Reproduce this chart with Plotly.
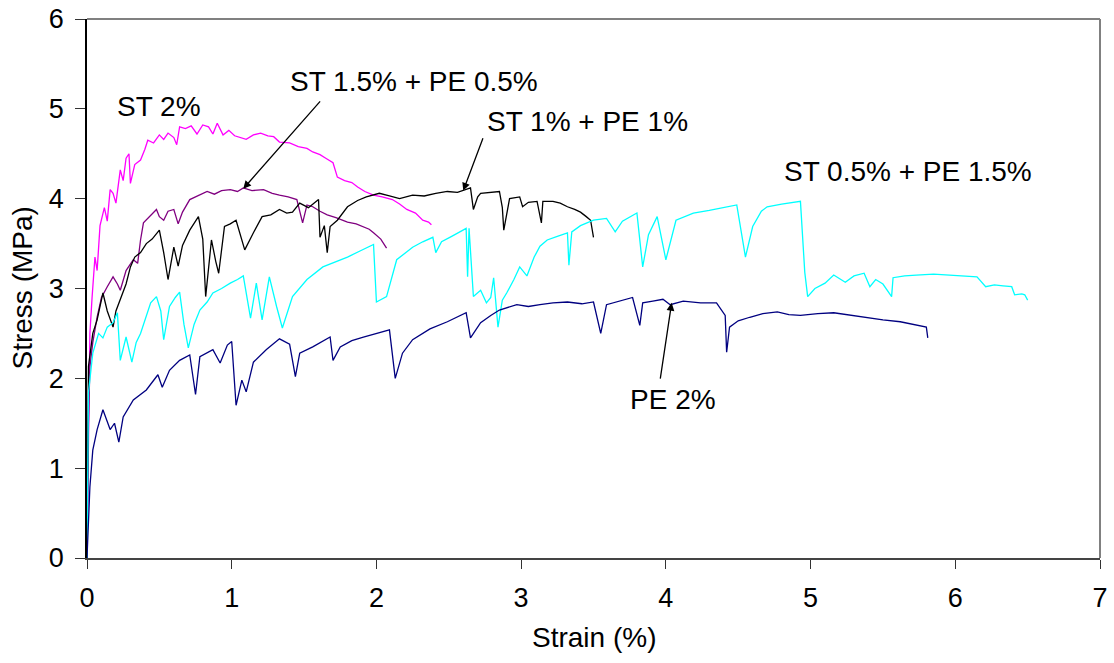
import plotly.graph_objects as go

# ---------------- data (strain %, stress MPa) ----------------
st2_x = [0.0, 0.01, 0.02, 0.035, 0.055, 0.07, 0.09, 0.12, 0.14, 0.16, 0.18, 0.2, 0.23, 0.25, 0.27, 0.29, 0.3, 0.33,
         0.37, 0.4, 0.42, 0.46, 0.5, 0.53, 0.56, 0.6, 0.62, 0.64, 0.68, 0.72, 0.76, 0.8, 0.84, 0.87, 0.9, 0.94,
         0.98, 1.02, 1.06, 1.1, 1.15, 1.2, 1.25, 1.29, 1.33, 1.4, 1.46, 1.52, 1.56, 1.61, 1.65, 1.7, 1.73, 1.78,
         1.83, 1.87, 1.92, 1.98, 2.04, 2.11, 2.16, 2.21, 2.27, 2.32, 2.36, 2.38]
st2_y = [0.0, 1.2, 2.5, 2.9, 3.35, 3.2, 3.7, 3.9, 3.75, 4.1, 4.06, 3.95, 4.32, 4.2, 4.45, 4.5, 4.17, 4.38,
         4.43, 4.55, 4.65, 4.62, 4.71, 4.66, 4.73, 4.68, 4.6, 4.8, 4.78, 4.81, 4.72, 4.82, 4.8, 4.72, 4.84, 4.71,
         4.76, 4.7, 4.68, 4.66, 4.71, 4.73, 4.7, 4.69, 4.63, 4.62, 4.58, 4.56, 4.52, 4.49, 4.45, 4.4, 4.24, 4.2,
         4.18, 4.13, 4.08, 4.04, 4.02, 3.99, 3.94, 3.88, 3.84, 3.76, 3.74, 3.71]

st15_x = [0.0, 0.01, 0.02, 0.04, 0.07, 0.1, 0.14, 0.18, 0.21, 0.23, 0.27, 0.32, 0.35, 0.37, 0.39, 0.43, 0.48,
          0.5, 0.53, 0.56, 0.6, 0.63, 0.66, 0.71, 0.75, 0.8, 0.83, 0.88, 0.93, 0.99, 1.04, 1.08, 1.14, 1.22,
          1.28, 1.33, 1.39, 1.45, 1.49, 1.52, 1.56, 1.61, 1.66, 1.72, 1.8, 1.86, 1.91, 1.95, 1.98, 2.03, 2.07]
st15_y = [0.0, 1.5, 2.13, 2.4, 2.68, 2.9, 3.02, 3.13, 3.05, 2.98, 3.2, 3.32, 3.28, 3.54, 3.73, 3.8, 3.88,
          3.8, 3.76, 3.86, 3.88, 3.72, 3.85, 3.99, 4.02, 4.06, 4.08, 4.05, 4.09, 4.1, 4.08, 4.12, 4.09, 4.1,
          4.06, 4.04, 4.02, 3.99, 3.73, 3.93, 3.91, 3.86, 3.82, 3.79, 3.74, 3.72, 3.69, 3.66, 3.62, 3.55, 3.45]

st1_x = [0.0, 0.01, 0.04, 0.07, 0.09, 0.11, 0.14, 0.18, 0.2, 0.23, 0.27, 0.3, 0.33, 0.37, 0.41, 0.45, 0.5,
         0.53, 0.56, 0.6, 0.63, 0.66, 0.71, 0.77, 0.8, 0.82, 0.86, 0.89, 0.91, 0.95, 0.99, 1.03, 1.06, 1.09,
         1.15, 1.21, 1.27, 1.33, 1.38, 1.42, 1.47, 1.53, 1.6, 1.61, 1.64, 1.66, 1.68, 1.73, 1.8, 1.87, 1.93,
         2.02, 2.09, 2.16, 2.25, 2.33, 2.41, 2.49, 2.56, 2.62, 2.65, 2.67, 2.7, 2.72, 2.78, 2.85, 2.87, 2.88,
         2.92, 2.99, 3.01, 3.05, 3.11, 3.14, 3.15, 3.22, 3.27, 3.32, 3.37, 3.41, 3.45, 3.48, 3.5]
st1_y = [0.0, 2.13, 2.5, 2.65, 2.8, 2.95, 2.75, 2.57, 2.75, 2.87, 3.05, 3.24, 3.35, 3.4, 3.5, 3.55, 3.65,
         3.4, 3.1, 3.46, 3.25, 3.48, 3.65, 3.8, 3.55, 2.91, 3.54, 3.3, 3.17, 3.69, 3.72, 3.76, 3.6, 3.43,
         3.62, 3.8, 3.82, 3.88, 3.84, 3.85, 3.95, 3.9, 3.99, 3.57, 3.7, 3.4, 3.69, 3.76, 3.91, 3.98, 4.02,
         4.06, 4.03, 4.0, 4.04, 4.03, 4.06, 4.08, 4.07, 4.1, 4.12, 3.88, 4.02, 4.06, 4.07, 4.08, 3.9, 3.65,
         4.0, 4.02, 3.91, 3.96, 3.97, 3.73, 3.97, 3.97, 3.95, 3.91, 3.88, 3.85, 3.8, 3.76, 3.57]

st05_x = [0.0, 0.01, 0.04, 0.08, 0.11, 0.14, 0.18, 0.21, 0.23, 0.27, 0.31, 0.34, 0.37, 0.41, 0.44, 0.48,
          0.51, 0.53, 0.57, 0.61, 0.64, 0.67, 0.7, 0.74, 0.78, 0.83, 0.87, 0.93, 0.99, 1.04, 1.08, 1.13, 1.17,
          1.21, 1.26, 1.31, 1.35, 1.42, 1.52, 1.63, 1.72, 1.8, 1.89, 1.98, 2.0, 2.07, 2.14, 2.25, 2.32, 2.39,
          2.41, 2.45, 2.52, 2.58, 2.62, 2.63, 2.64, 2.67, 2.72, 2.76, 2.79, 2.81, 2.84, 2.87, 2.9, 2.95, 2.99,
          3.04, 3.09, 3.13, 3.18, 3.25, 3.32, 3.33, 3.35, 3.41, 3.45, 3.5, 3.59, 3.65, 3.7, 3.76, 3.8, 3.84,
          3.88, 3.94, 4.0, 4.07, 4.19, 4.3, 4.4, 4.49, 4.55, 4.6, 4.66, 4.7, 4.8, 4.93, 4.96, 4.98, 5.03, 5.1,
          5.16, 5.24, 5.3, 5.37, 5.41, 5.45, 5.5, 5.53, 5.56, 5.57, 5.65, 5.73, 5.85, 5.96, 6.06, 6.15, 6.21,
          6.27, 6.33, 6.39, 6.41, 6.46, 6.48, 6.5]
st05_y = [0.0, 1.84, 2.28, 2.5, 2.45, 2.57, 2.62, 2.73, 2.2, 2.46, 2.18, 2.4, 2.5, 2.7, 2.84, 2.91, 2.75,
          2.43, 2.8, 2.9, 2.96, 2.6, 2.34, 2.6, 2.76, 2.85, 2.95, 3.0, 3.06, 3.1, 3.14, 2.67, 3.06, 2.65, 3.13,
          2.8, 2.56, 2.91, 3.1, 3.24, 3.3, 3.35, 3.42, 3.49, 2.85, 2.91, 3.32, 3.46, 3.52, 3.57, 3.4, 3.52, 3.58,
          3.63, 3.67, 3.13, 3.67, 2.91, 2.98, 2.84, 2.9, 3.12, 2.57, 2.87, 2.95, 3.1, 3.24, 3.14, 3.35, 3.47,
          3.54, 3.58, 3.62, 3.26, 3.63, 3.7, 3.73, 3.76, 3.78, 3.63, 3.75, 3.8, 3.84, 3.24, 3.6, 3.8, 3.32, 3.76,
          3.84, 3.87, 3.9, 3.93, 3.35, 3.69, 3.86, 3.91, 3.94, 3.97, 3.18, 2.91, 3.0, 3.06, 3.15, 3.07, 3.14, 3.17,
          3.02, 3.1, 3.05, 2.98, 2.91, 3.12, 3.14, 3.15, 3.16, 3.15, 3.14, 3.13, 3.02, 3.04, 3.03, 3.02, 2.93,
          2.94, 2.93, 2.87]

pe2_x = [0.0, 0.02, 0.04, 0.07, 0.11, 0.16, 0.19, 0.22, 0.25, 0.32, 0.41, 0.45, 0.49, 0.52, 0.57, 0.64,
         0.71, 0.75, 0.78, 0.87, 0.92, 0.97, 1.0, 1.03, 1.07, 1.1, 1.15, 1.24, 1.33, 1.4, 1.44, 1.47, 1.56,
         1.68, 1.7, 1.75, 1.83, 1.91, 2.0, 2.09, 2.13, 2.18, 2.25, 2.37, 2.49, 2.56, 2.62, 2.65, 2.72, 2.79,
         2.85, 2.97, 3.05, 3.13, 3.22, 3.32, 3.42, 3.5, 3.55, 3.59, 3.68, 3.77, 3.82, 3.84, 3.91, 3.98, 4.03,
         4.12, 4.24, 4.35, 4.41, 4.42, 4.44, 4.5, 4.58, 4.67, 4.77, 4.85, 4.93, 5.05, 5.16, 5.28, 5.39, 5.5,
         5.62, 5.72, 5.8, 5.81]
pe2_y = [0.0, 0.79, 1.2, 1.43, 1.65, 1.43, 1.5, 1.29, 1.57, 1.76, 1.87, 1.95, 2.04, 1.9, 2.09, 2.2,
         2.26, 1.82, 2.24, 2.32, 2.17, 2.37, 2.41, 1.7, 1.98, 1.85, 2.18, 2.32, 2.44, 2.38, 2.02, 2.28, 2.35,
         2.46, 2.2, 2.35, 2.42, 2.46, 2.5, 2.54, 2.0, 2.28, 2.43, 2.55, 2.63, 2.68, 2.73, 2.45, 2.62, 2.7,
         2.76, 2.82, 2.8, 2.82, 2.84, 2.85, 2.83, 2.85, 2.5, 2.82, 2.86, 2.9, 2.59, 2.84, 2.86, 2.88, 2.82,
         2.86, 2.84, 2.84, 2.7, 2.29, 2.57, 2.64, 2.68, 2.72, 2.74, 2.71, 2.7, 2.72, 2.73, 2.7, 2.67, 2.65,
         2.63, 2.6, 2.57, 2.45]

x_ticks = [0, 1, 2, 3, 4, 5, 6, 7]
y_ticks = [0, 1, 2, 3, 4, 5, 6]

series = [
    ("ST 2%", st2_x, st2_y, "#FF00FF"),
    ("ST 1.5% + PE 0.5%", st15_x, st15_y, "#800080"),
    ("ST 1% + PE 1%", st1_x, st1_y, "#000000"),
    ("ST 0.5% + PE 1.5%", st05_x, st05_y, "#00FFFF"),
    ("PE 2%", pe2_x, pe2_y, "#000080"),
]

# label text positions and arrows (head x,y ; tail x,y)
labels = [
    ("ST 2%", 0.5, 5.03),
    ("ST 1.5% + PE 0.5%", 2.26, 5.3),
    ("ST 1% + PE 1%", 3.46, 4.86),
    ("ST 0.5% + PE 1.5%", 5.67, 4.3),
    ("PE 2%", 4.05, 1.76),
]
arrows = [
    (1.08, 4.11, 1.62, 5.1),
    (2.6, 4.09, 2.74, 4.69),
    (4.04, 2.84, 3.96, 1.98),
]

FONT = "Liberation Sans, Arial, sans-serif"

fig = go.Figure()
for name, xs, ys, col in series:
    fig.add_trace(go.Scatter(x=xs, y=ys, mode="lines", name=name,
                             line=dict(color=col, width=1.3), showlegend=False))

for txt, x, y in labels:
    fig.add_annotation(x=x, y=y, xref="x", yref="y", text=txt, showarrow=False,
                       font=dict(family=FONT, size=28, color="black"))
for hx, hy, tx, ty in arrows:
    fig.add_annotation(x=hx, y=hy, ax=tx, ay=ty, xref="x", yref="y", axref="x", ayref="y",
                       text="", showarrow=True, arrowhead=2, arrowsize=1.2, arrowwidth=1.3,
                       arrowcolor="black")

# axis titles
fig.add_annotation(x=0.5, y=0, xref="paper", yref="paper", text="Strain (%)", showarrow=False,
                   xanchor="center", yanchor="middle", yshift=-79,
                   font=dict(family=FONT, size=28, color="black"))
fig.add_annotation(x=0, y=0.5, xref="paper", yref="paper", text="Stress (MPa)", showarrow=False,
                   xanchor="center", yanchor="middle", xshift=-65, textangle=-90,
                   font=dict(family=FONT, size=28, color="black"))

# top and right borders of plot area
fig.add_shape(type="line", xref="paper", yref="paper", x0=0, x1=1, y0=1, y1=1,
              line=dict(color="#808080", width=2), layer="above")
fig.add_shape(type="line", xref="paper", yref="paper", x0=1, x1=1, y0=0, y1=1,
              line=dict(color="#808080", width=2), layer="above")

fig.update_layout(
    width=1114, height=663,
    margin=dict(l=87, r=14, t=19, b=105),
    paper_bgcolor="white", plot_bgcolor="white",
    font=dict(family=FONT, size=27, color="black"),
    xaxis=dict(range=[0, 7], tickvals=x_ticks, ticks="outside", ticklen=9, tickcolor="#333333",
               showline=True, linecolor="#444444", linewidth=2, showgrid=False, zeroline=False,
               automargin=False, ticklabelstandoff=6, ticklabeloverflow="allow",
               tickfont=dict(size=27)),
    yaxis=dict(range=[0, 6], tickvals=y_ticks, ticks="outside", ticklen=10, tickcolor="#333333",
               showline=True, linecolor="#000000", linewidth=1.5, showgrid=False, zeroline=False,
               automargin=False, ticklabelstandoff=6, ticklabeloverflow="allow",
               tickfont=dict(size=27)),
)

# remove the browser's default 8px page margin so the figure sits at the window origin
fig.write_html("out.html",
               config={"displayModeBar": False},
               post_script="document.body.style.margin='0';document.body.style.overflow='hidden';")
